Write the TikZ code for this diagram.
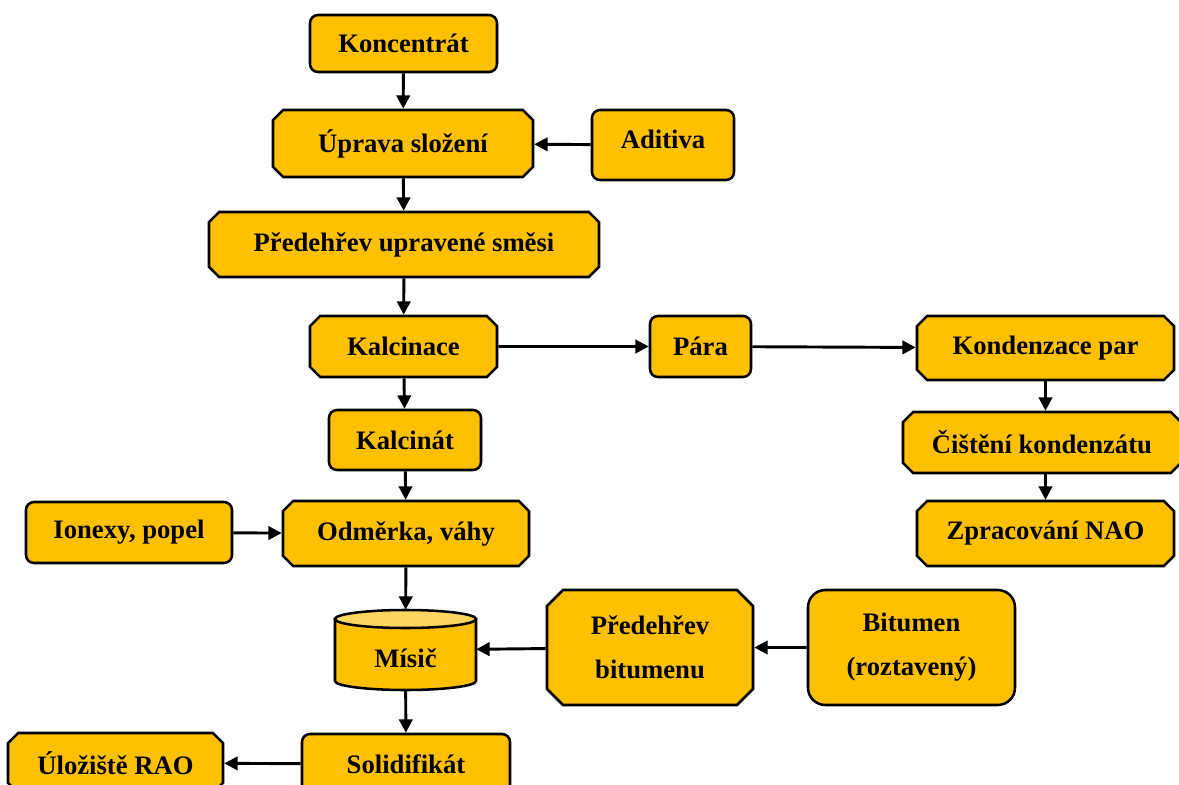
\documentclass[tikz,border=0pt]{standalone}
\usepackage{fontspec}
\setmainfont{Liberation Serif}
\usetikzlibrary{shapes.misc,arrows.meta,calc}
\definecolor{boxfill}{HTML}{FFC000}
\definecolor{toplight}{HTML}{FFD760}
\tikzset{
  base/.style={draw=black, line width=1.9pt, fill=boxfill, text=black,
    font=\bfseries\fontsize{20}{33}\selectfont, inner sep=0pt, align=center},
  rbox/.style={base, rectangle, rounded corners=6pt},
  cbox/.style={base, chamfered rectangle, chamfered rectangle xsep=3.8pt, chamfered rectangle ysep=3.8pt},
  cboxbig/.style={base, chamfered rectangle, chamfered rectangle xsep=6pt, chamfered rectangle ysep=6pt},
  wh/.style 2 args={minimum width=#1*0.75pt, minimum height=#2*0.75pt},
  arr/.style={line width=2.2pt, -{Triangle[length=10pt,width=10pt]}},
  ghost/.style={draw=none, fill=none, rectangle, inner sep=0pt},
  txt/.style={font=\bfseries\fontsize{20}{33}\selectfont, inner sep=0pt}
}
\begin{document}
\begin{tikzpicture}[x=0.75pt, y=-0.75pt]
\useasboundingbox (0,0) rectangle (1179,785);
\fill[white] (0,0) rectangle (1179,785);

% nodes
\node[rbox, wh={187}{57}] (kon) at (403.5,43.5) {Koncentrát};
\node[cbox, wh={260}{67}] (upr) at (403,143.5) {Úprava složení};
\node[rbox, wh={142}{70}, text depth=9pt] (adi) at (663,145) {Aditiva};
\node[cbox, wh={390}{65}] (pre) at (404,244.5) {Předehřev upravené směsi};
\node[cbox, wh={187}{61}] (kal) at (403.5,346.5) {Kalcinace};
\node[rbox, wh={101}{61}] (par) at (700.5,346.5) {Pára};
\node[cbox, wh={257}{64}] (kond) at (1045.5,348) {Kondenzace par};
\node[cbox, wh={278}{61}] (cis) at (1042,442.5) {Čištění kondenzátu};
\node[cbox, wh={257}{65}] (zpr) at (1045.5,533.5) {Zpracování NAO};
\node[rbox, wh={152}{60}] (kat) at (405,440) {Kalcinát};
\node[rbox, wh={206}{61}] (ion) at (129,532.5) {Ionexy, popel};
\node[cbox, wh={246}{65}] (odm) at (406,533.5) {Odměrka, váhy};
\node[cboxbig, wh={206}{115}] (pbit) at (650,647.5) {Předehřev\\bitumenu};
\node[base, rectangle, rounded corners=13pt, wh={207}{115}] (bit) at (911.5,647.5) {Bitumen\\(roztavený)};
\node[cbox, wh={215}{60}] (ulo) at (115.5,763) {Úložiště RAO};
\node[rbox, wh={208}{60}] (sol) at (406,764) {Solidifikát};

% cylinder (Mísič)
\node[ghost, wh={141}{80}] (mis) at (405.5,650) {};
\draw[line width=1.9pt, fill=boxfill] (335,619) -- (335,681)
  arc[start angle=180, end angle=360, x radius=52.875pt, y radius=6.75pt] -- (476,619) -- cycle;
\draw[line width=1.9pt, fill=toplight] (405.5,619) ellipse [x radius=52.875pt, y radius=6.75pt];
\node[txt] (mistxt) at (405.5,658) {Mísič};

% connectors
\draw[arr] (kon) -- (upr);
\draw[arr] (adi) -- (upr);
\draw[arr] (upr) -- (pre);
\draw[arr] (pre) -- (kal);
\draw[arr] (kal) -- (par);
\draw[arr] (par) -- (kond);
\draw[arr] (kond.south) -- (kond.south |- cis.north);
\draw[arr] (zpr.north |- cis.south) -- (zpr.north);
\draw[arr] (kal) -- (kat);
\draw[arr] (kat) -- (odm);
\draw[arr] (ion) -- (odm);
\draw[arr] (odm) -- (mis);
\draw[arr] (pbit) -- (mis);
\draw[arr] (bit) -- (pbit);
\draw[arr] (mis) -- (sol);
\draw[arr] (sol) -- (ulo);
\end{tikzpicture}
\end{document}
